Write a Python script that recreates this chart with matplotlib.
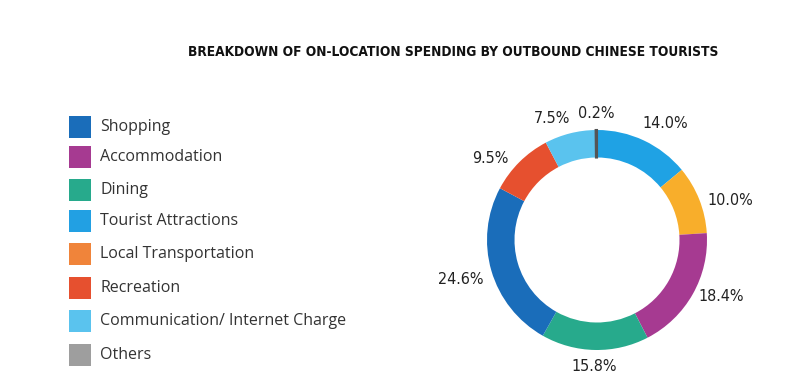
import numpy as np
import matplotlib.pyplot as plt
from matplotlib.patches import Rectangle

# data
categories = ["Shopping", "Accommodation", "Dining", "Tourist Attractions",
              "Local Transportation", "Recreation",
              "Communication/ Internet Charge", "Others"]
legend_colors = ["#1a6dba", "#a63a91", "#27aa8c", "#22a0e3",
                 "#f0843a", "#e6502f", "#5ac3ee", "#9e9e9e"]

# ring order, clockwise from 12 o'clock
ring_names = ["Tourist Attractions", "Local Transportation", "Accommodation",
              "Dining", "Shopping", "Recreation",
              "Communication/ Internet Charge", "Others"]
ring_values = [14.0, 10.0, 18.4, 15.8, 24.6, 9.5, 7.5, 0.2]
ring_colors = ["#1fa2e4", "#f8ae2b", "#a63a91", "#27aa8c",
               "#1a6dba", "#e6502f", "#5ac3ee", "#555555"]

W, H = 800, 382

fig = plt.figure(figsize=(8.0, 3.82), dpi=100)

fig.text(453 / W, 1 - 52 / H,
         "BREAKDOWN OF ON-LOCATION SPENDING BY OUTBOUND CHINESE TOURISTS",
         family="DejaVu Sans", stretch="condensed", fontweight="bold",
         fontsize=9.8, color="#111111", ha="center", va="center")

# donut
cx, cy, side = 597, 240, 275
ax = fig.add_axes([(cx - side / 2) / W, (H - cy - side / 2) / H, side / W, side / H])
labels = ["%.1f%%" % v for v in ring_values]
wedges, texts = ax.pie(ring_values, colors=ring_colors, startangle=90,
                       counterclock=False, labels=labels, labeldistance=1.2,
                       wedgeprops=dict(width=0.25, linewidth=0))
# tiny "Others" slice: give it an outline so it reads like the original
wedges[-1].set_edgecolor(ring_colors[-1])
wedges[-1].set_linewidth(1.5)

# label placement tweaks: distance and clockwise angle nudge (deg)
label_dist = [1.23, 1.26, 1.24, 1.15, 1.29, 1.22, 1.18, 1.15]
label_nudge = [5, 5, -5, 0, 0, -8, -6, 0]
for w, t, d, n in zip(wedges, texts, label_dist, label_nudge):
    a = np.deg2rad((w.theta1 + w.theta2) / 2 - n)
    t.set_position((d * np.cos(a), d * np.sin(a)))
    t.set_ha("center")
    t.set_va("center")
    t.set_family("DejaVu Sans")
    t.set_stretch("condensed")
    t.set_fontsize(11.5)
    t.set_color("#222222")
ax.set_aspect("equal")

# legend
row_y = [127, 157, 190, 221, 254, 288, 321, 355]
for name, col, y in zip(categories, legend_colors, row_y):
    fig.patches.append(Rectangle((69 / W, 1 - (y + 11) / H), 22 / W, 22 / H,
                                 transform=fig.transFigure, facecolor=col,
                                 edgecolor="none"))
    fig.text(100 / W, 1 - y / H, name, family=["Open Sans", "DejaVu Sans"],
             fontsize=11.5, color="#333333", ha="left", va="center")

fig.savefig("out.png", dpi=100)
